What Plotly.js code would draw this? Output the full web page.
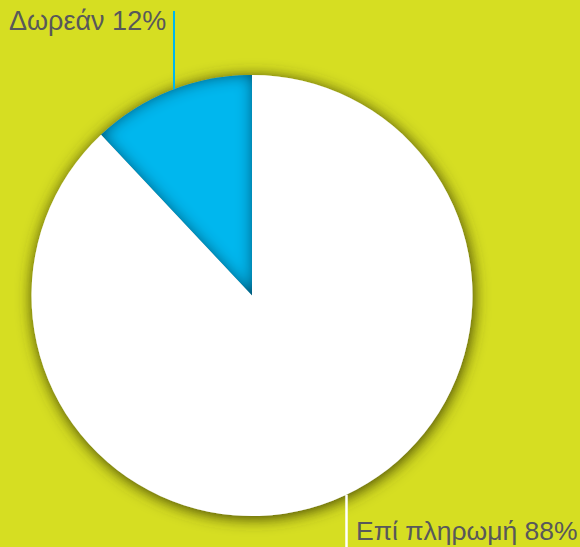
<!DOCTYPE html>
<html>
<head>
<meta charset="utf-8">
<script src="https://cdn.plot.ly/plotly-3.0.1.min.js"></script>
<style>
  html, body { margin: 0; padding: 0; background: #d6de22; }
  #chart { width: 580px; height: 547px; }
</style>
</head>
<body>
<div id="chart"></div>
<script>
const categories = ['Δωρεάν', 'Επί πληρωμή'];
const values = [12, 88];
const sliceColors = ['#00b7ee', '#ffffff'];

const W = 580, H = 547;
const cx = 252, cy = 295.5, R = 220.5;
const px = x => x / W;
const py = y => 1 - y / H;
const total = values.reduce((a, b) => a + b, 0);

const data = [{
  type: 'pie',
  labels: categories,
  values: values,
  sort: false,
  direction: 'clockwise',
  rotation: 360 - 360 * values[0] / total,
  textinfo: 'none',
  hoverinfo: 'label+percent',
  marker: { colors: sliceColors, line: { width: 0 } },
  domain: { x: [px(cx - R), px(cx + R)], y: [py(cy + R), py(cy - R)] },
  showlegend: false
}];

function edgeY(x, top) {
  const d = Math.sqrt(R * R - (x - cx) * (x - cx));
  return top ? cy - d : cy + d;
}

const layout = {
  width: W, height: H,
  margin: { l: 0, r: 0, t: 0, b: 0 },
  paper_bgcolor: '#d6de22',
  plot_bgcolor: '#d6de22',
  showlegend: false,
  shapes: [
    { type: 'line', xref: 'paper', yref: 'paper', layer: 'above',
      x0: px(174), x1: px(174), y0: py(11), y1: py(edgeY(174, true)),
      line: { color: '#00b7ee', width: 2 } },
    { type: 'line', xref: 'paper', yref: 'paper', layer: 'above',
      x0: px(346.5), x1: px(346.5), y0: py(edgeY(346.5, false)), y1: py(H),
      line: { color: '#ffffff', width: 2.5 } }
  ],
  annotations: [
    { xref: 'paper', yref: 'paper', x: px(7), y: py(21), xanchor: 'left', yanchor: 'middle',
      text: categories[0] + ' ' + values[0] + '%', showarrow: false,
      font: { family: 'Liberation Sans, Arial, sans-serif', size: 27, color: '#58585a' } },
    { xref: 'paper', yref: 'paper', x: px(354), y: py(531), xanchor: 'left', yanchor: 'middle',
      text: categories[1] + ' ' + values[1] + '%', showarrow: false,
      font: { family: 'Liberation Sans, Arial, sans-serif', size: 26.5, color: '#58585a' } }
  ]
};

Plotly.newPlot('chart', data, layout, { displayModeBar: false, staticPlot: true }).then(function () {
  const svg = document.querySelector('#chart .main-svg');
  const NS = 'http://www.w3.org/2000/svg';
  let defs = svg.querySelector('defs');
  if (!defs) { defs = document.createElementNS(NS, 'defs'); svg.insertBefore(defs, svg.firstChild); }
  defs.insertAdjacentHTML('beforeend',
    '<filter id="outerShadow" x="-20%" y="-20%" width="140%" height="140%">' +
      '<feGaussianBlur in="SourceAlpha" stdDeviation="8" result="b"/>' +
      '<feOffset in="b" dx="1" dy="2" result="o"/>' +
      '<feFlood flood-color="#3a3a00" flood-opacity="1"/>' +
      '<feComposite in2="o" operator="in" result="s"/>' +
      '<feMerge><feMergeNode in="s"/><feMergeNode in="SourceGraphic"/></feMerge>' +
    '</filter>' +
    '<filter id="innerShadow" x="-20%" y="-20%" width="140%" height="140%">' +
      '<feComponentTransfer in="SourceAlpha" result="inv"><feFuncA type="table" tableValues="1 0"/></feComponentTransfer>' +
      '<feGaussianBlur in="inv" stdDeviation="8" result="blur"/>' +
      '<feFlood flood-color="#003550" flood-opacity="1" result="col"/>' +
      '<feComposite in="col" in2="blur" operator="in" result="sh"/>' +
      '<feComposite in="sh" in2="SourceAlpha" operator="in" result="ish"/>' +
      '<feMerge><feMergeNode in="SourceGraphic"/><feMergeNode in="ish"/></feMerge>' +
    '</filter>');
  const tr = svg.querySelector('.pielayer .trace');
  if (tr) tr.setAttribute('filter', 'url(#outerShadow)');
  const slices = svg.querySelectorAll('.pielayer .slice path');
  if (slices[0]) slices[0].setAttribute('filter', 'url(#innerShadow)');
});
</script>
</body>
</html>
